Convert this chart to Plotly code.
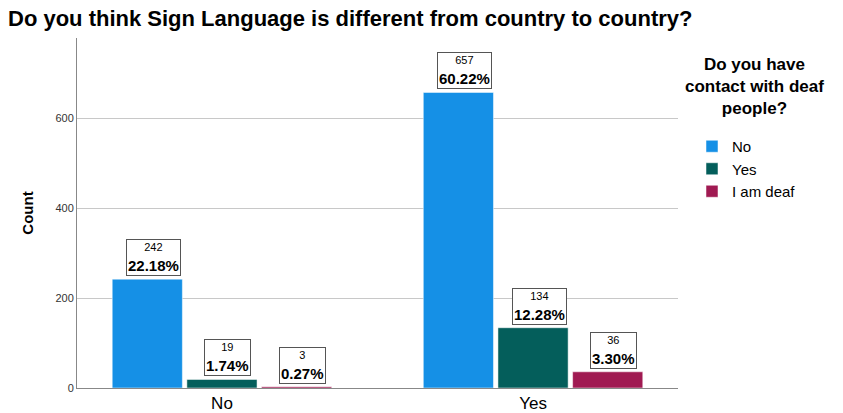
import plotly.graph_objects as go

categories = ["No", "Yes"]
series_names = ["No", "Yes", "I am deaf"]
counts_no_contact = [242, 657]
counts_contact = [19, 134]
counts_deaf = [3, 36]
colors = ["#1590e6", "#045e5b", "#a01a52"]
y_ticks = [0, 200, 400, 600]
legend_title = "Do you have<br>contact with deaf<br>people?"

series_values = [counts_no_contact, counts_contact, counts_deaf]
total = sum(sum(v) for v in series_values)

W, H = 843, 413
ml, mr, mt, mb = 77, 165, 38, 25
x_range = [-0.466, 1.466]
plot_w = W - ml - mr
plot_h = H - mt - mb
unit_px = plot_w / (x_range[1] - x_range[0])
bargap = 0.28
slot_px = unit_px * (1 - bargap) / 3
FONT = "Liberation Sans, Arial, sans-serif"

fig = go.Figure()
for name, vals, col in zip(series_names, series_values, colors):
    fig.add_trace(go.Bar(
        x=categories, y=vals, name=name,
        marker=dict(color=col, line=dict(color="rgba(255,255,255,0.5)", width=1)),
    ))

annotations = []
for i, vals in enumerate(series_values):
    for cat, v in zip(categories, vals):
        pct = v / total * 100
        annotations.append(dict(
            x=cat, y=v, xref="x", yref="y",
            text=f"<span style='font-size:11px'>{v}</span><br><b>{pct:.2f}%</b>",
            showarrow=False, yanchor="bottom", xanchor="center",
            xshift=(i - 1) * slot_px + 6, yshift=3,
            font=dict(family=FONT, size=15, color="black"),
            bordercolor="#555555", borderwidth=1, borderpad=1, bgcolor="white",
        ))

annotations.append(dict(
    x=(754 - ml) / plot_w, y=(H - mb - 86) / plot_h,
    xref="paper", yref="paper",
    text=f"<b>{legend_title}</b>",
    showarrow=False, xanchor="center", yanchor="middle", align="center",
    font=dict(family=FONT, size=17, color="black"),
))

fig.update_layout(
    width=W, height=H,
    margin=dict(l=ml, r=mr, t=mt, b=mb, autoexpand=False),
    paper_bgcolor="white", plot_bgcolor="white",
    barmode="group", bargap=bargap, bargroupgap=0.06,
    title=dict(
        text="<b>Do you think Sign Language is different from country to country?</b>",
        x=0, xanchor="left", xref="container", pad=dict(l=8),
        y=1 - 18 / H, yanchor="middle",
        font=dict(family=FONT, size=22, color="black"),
    ),
    xaxis=dict(
        range=x_range, showgrid=False, showline=True, linecolor="#888888", linewidth=1,
        ticks="", automargin=False,
        tickfont=dict(family=FONT, size=17, color="black"),
    ),
    yaxis=dict(
        range=[0, 778], tickvals=y_ticks, showgrid=True, gridcolor="#c8c8c8", gridwidth=1,
        showline=True, linecolor="#888888", linewidth=1, zeroline=False, ticks="",
        automargin=False,
        tickfont=dict(family=FONT, size=11, color="#333333"),
        title=dict(text="<b>Count</b>", standoff=18,
                   font=dict(family=FONT, size=15, color="black")),
    ),
    legend=dict(
        x=(692 - ml) / plot_w, xanchor="left",
        y=(H - mb - 130) / plot_h, yanchor="top",
        font=dict(family=FONT, size=15, color="black"),
        itemwidth=30, tracegroupgap=0, bgcolor="rgba(0,0,0,0)",
    ),
    annotations=annotations,
    showlegend=True,
)

fig.write_html(
    "out.html",
    config={"displayModeBar": False},
    post_script="document.body.style.margin='0';document.body.style.overflow='hidden';",
)
